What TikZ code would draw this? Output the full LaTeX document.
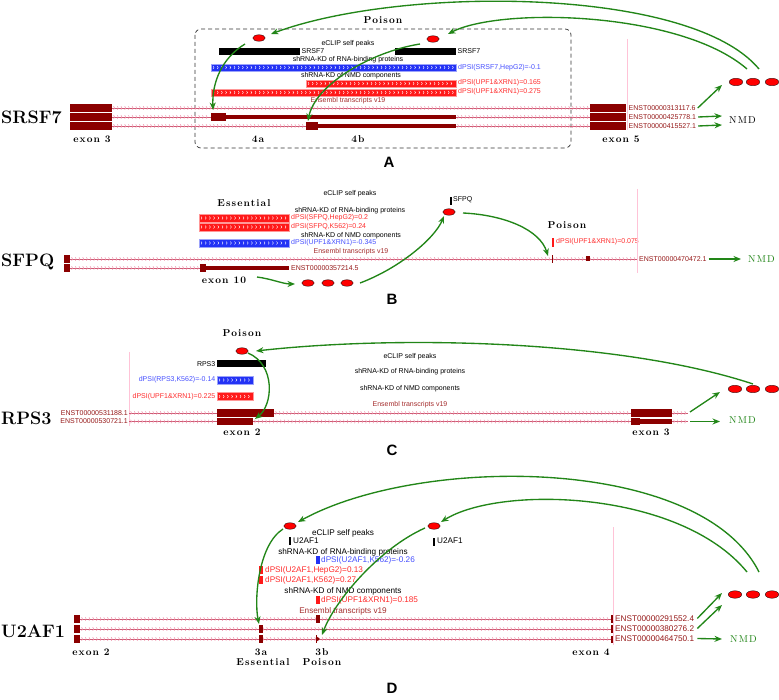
\documentclass[tikz,border=0pt]{standalone}
\usepackage{fontspec}
\newfontfamily\arial{Liberation Sans}
\newfontfamily\lmsp[Extension=.otf, UprightFont=*-regular, BoldFont=*-bold, LetterSpace=11]{lmroman10}
\usetikzlibrary{shapes.geometric,arrows.meta}
\definecolor{exred}{RGB}{139,0,0}
\definecolor{intr}{RGB}{205,90,115}
\definecolor{chev}{RGB}{240,150,175}
\definecolor{bbar}{RGB}{35,50,245}
\definecolor{rbar}{RGB}{255,25,25}
\definecolor{btxt}{RGB}{70,80,255}
\definecolor{rtxt}{RGB}{255,45,45}
\definecolor{grn}{RGB}{34,134,24}
\definecolor{pinkl}{RGB}{255,195,215}
\definecolor{enst}{RGB}{150,25,25}
\definecolor{enstxt}{RGB}{165,45,45}
\newcommand\intron[3]{%
 \draw[intr, line width=0.5pt] (#1,#3)--(#2,#3);
 \pgfmathsetmacro\ia{#1+2.5}\pgfmathsetmacro\ib{#1+6.2}\pgfmathsetmacro\ie{#2-0.5}
 \foreach \x in {\ia,\ib,...,\ie}{\draw[chev, line width=0.5pt] (\x-0.9,#3-1.8)--(\x,#3)--(\x-0.9,#3+1.8);}
}
\newcommand\chevbar[5]{%
 \fill[#5] (#1,#3) rectangle (#2,#4);
 \draw[#5!45, line width=0.5pt] (#1,#3) rectangle (#2,#4);
 \pgfmathsetmacro\ca{#1+3}\pgfmathsetmacro\cb{#1+7.2}\pgfmathsetmacro\ce{#2-0.8}\pgfmathsetmacro\cm{(#3+#4)/2}
 \foreach \x in {\ca,\cb,...,\ce}{\draw[white, line width=0.4pt] (\x-1,\cm-1.4)--(\x,\cm)--(\x-1,\cm+1.4);}
}
\begin{document}
\begin{tikzpicture}[x=1pt,y=-1pt,
 t/.style={inner sep=0, font=\arial\fontsize{7}{8}\selectfont},
 td/.style={inner sep=0, font=\arial\fontsize{8.2}{9}\selectfont},
 gene/.style={inner sep=0, anchor=west, font=\fontsize{18}{20}\selectfont\bfseries},
 spc/.style={inner sep=0, font=\lmsp\bfseries\fontsize{10}{12}\selectfont},
 nmd/.style={inner sep=0, anchor=west, font=\lmsp\fontsize{10}{12}\selectfont},
 plet/.style={inner sep=0, font=\arial\bfseries\fontsize{15}{17}\selectfont},
 oval/.style={ellipse, draw=black, line width=0.3pt, fill=red, minimum width=12.5pt, minimum height=6.5pt, inner sep=0},
 ovalr/.style={oval, minimum width=13.5pt, minimum height=7.5pt},
 garrow/.style={draw=grn, line width=1.35pt, -{Stealth[length=7.5pt,width=6pt]}},
 enl/.style={t, anchor=west, text=enst},
 enlr/.style={t, anchor=east, text=enst},
 endl/.style={td, anchor=west, text=enst}
]
\useasboundingbox (0,0) rectangle (779,700);
\fill[white] (0,0) rectangle (779,700);

%================ PANEL A
\draw[black!80, dash pattern=on 4pt off 3pt, line width=0.7pt, rounded corners=6pt] (195,29) rectangle (571,148);
\node[spc] (pA) at (383,20) {Poison};
\node[oval] (eA1) at (259,38) {};
\node[oval] (eA2) at (433,39) {};
\fill[black] (219,48) rectangle (300,55);
\node[t, anchor=west] (cA1) at (301.5,51.5) {SRSF7};
\fill[black] (395,48) rectangle (456,55);
\node[t, anchor=west] (cA2) at (457.5,51.5) {SRSF7};
\node[t] (hA1) at (348,44) {eCLIP self peaks};
\node[t] (hA2) at (348,60) {shRNA-KD of RNA-binding proteins};
\chevbar{211}{456}{64}{71}{bbar}
\node[t, anchor=west, text=btxt] (dA1) at (458,67.5) {dPSI(SRSF7,HepG2)=-0.1};
\node[t] (hA3) at (351,76) {shRNA-KD of NMD components};
\chevbar{306}{456}{80}{87}{rbar}
\node[t, anchor=west, text=rtxt] (dA2) at (458,82.5) {dPSI(UPF1\&XRN1)=0.165};
\chevbar{211}{456}{89}{96}{rbar}
\node[t, anchor=west, text=rtxt] (dA3) at (458,92) {dPSI(UPF1\&XRN1)=0.275};
\node[t, text=enstxt] (hA4) at (348,101) {Ensembl transcripts v19};
% transcripts
\intron{112}{590}{108}
\fill[exred] (70,104.3) rectangle (112,111.7);
\fill[exred] (590,104.3) rectangle (626,111.7);
\intron{112}{211}{117}
\fill[exred] (70,113.3) rectangle (112,120.7);
\fill[exred] (211,113.3) rectangle (226,120.7);
\fill[exred] (226,115) rectangle (456,119);
\intron{456}{590}{117}
\fill[exred] (590,113.3) rectangle (626,120.7);
\intron{112}{306}{126}
\fill[exred] (70,122.3) rectangle (112,129.7);
\fill[exred] (306,122.3) rectangle (318,129.7);
\fill[exred] (318,124.2) rectangle (456,127.8);
\intron{456}{590}{126}
\fill[exred] (590,122.3) rectangle (626,129.7);
\draw[pinkl, line width=0.8pt] (627,39) -- (627,130);
\node[enl] (tA1) at (628.5,108) {ENST00000313117.6};
\node[enl] (tA2) at (628.5,117) {ENST00000425778.1};
\node[enl] (tA3) at (628.5,126) {ENST00000415527.1};
\node[gene] (gA) at (1,117) {SRSF7};
\node[spc] (xA1) at (92,139) {exon 3};
\node[spc] (xA2) at (258,139) {4a};
\node[spc] (xA3) at (358,139) {4b};
\node[spc] (xA4) at (621,139) {exon 5};
\node[ovalr] (rA1) at (736,82) {};
\node[ovalr] (rA2) at (753,82) {};
\node[ovalr] (rA3) at (772,82) {};
\node[nmd] (nA) at (729,120) {NMD};
\coordinate (qA1) at (722,85);
\coordinate (qA2) at (722,116);
\coordinate (qA3) at (722,125);
\draw[garrow] ([xshift=2pt]tA1.east) -- (qA1);
\draw[garrow] ([xshift=2pt]tA2.east) -- (qA2);
\draw[garrow] ([xshift=2pt]tA3.east) -- (qA3);
\coordinate (sA1) at (759,69); \coordinate (aA1) at (271,34);
\coordinate (sA2) at (747,69); \coordinate (aA2) at (448,34);
\draw[garrow] (sA1) .. controls (690,-14) and (400,-14) .. (aA1);
\draw[garrow] (sA2) .. controls (680,11) and (500,7) .. (aA2);
\coordinate (sA3) at (245,44); \coordinate (aA3) at (213,110);
\coordinate (sA4) at (420,44); \coordinate (aA4) at (308,121);
\draw[garrow] (sA3) .. controls (222,58) and (212,82) .. (aA3);
\draw[garrow] (sA4) .. controls (370,52) and (315,85) .. (aA4);
\node[plet] (LA) at (389,162) {A};

%================ PANEL B
\node[gene] (gB) at (1,262) {SFPQ};
\node[spc] (pB1) at (244,203) {Essential};
\node[t] (hB1) at (350,194) {eCLIP self peaks};
\fill[black] (450.4,197) rectangle (451.8,205);
\node[t, anchor=west] (cB1) at (453,200) {SFPQ};
\node[oval] (eB) at (449,212) {};
\node[t] (hB2) at (350,211) {shRNA-KD of RNA-binding proteins};
\chevbar{199}{289}{214}{222}{rbar}
\node[t, anchor=west, text=rtxt] (dB1) at (291,218) {dPSI(SFPQ,HepG2)=0.2};
\chevbar{199}{289}{223}{231}{rbar}
\node[t, anchor=west, text=rtxt] (dB2) at (291,227) {dPSI(SFPQ,K562)=0.24};
\node[t] (hB3) at (351,236) {shRNA-KD of NMD components};
\chevbar{199}{289}{239}{247}{bbar}
\node[t, anchor=west, text=btxt] (dB3) at (291,243) {dPSI(UPF1\&XRN1)=-0.345};
\node[t, text=enstxt] (hB4) at (351,252) {Ensembl transcripts v19};
\node[spc] (pB2) at (567,225) {Poison};
\fill[rbar] (552,238) rectangle (554,247);
\node[t, anchor=west, text=rtxt] (dB4) at (556,242) {dPSI(UPF1\&XRN1)=0.075};
\intron{70}{637}{259}
\fill[exred] (64,255) rectangle (70,263);
\fill[exred] (551.6,255) rectangle (553.4,263);
\fill[exred] (586,256.5) rectangle (590,261.5);
\intron{70}{200}{268}
\fill[exred] (64,264) rectangle (70,272);
\fill[exred] (200,264) rectangle (206,272);
\fill[exred] (206,265.8) rectangle (289,270.2);
\draw[pinkl, line width=0.8pt] (637,189) -- (637,273);
\node[enl] (tB1) at (639,259) {ENST00000470472.1};
\node[enl] (tB2) at (291,268) {ENST00000357214.5};
\node[spc] (xB1) at (224,280) {exon 10};
\node[oval] (mB1) at (308,283) {};
\node[oval] (mB2) at (328,283) {};
\node[oval] (mB3) at (347,283) {};
\coordinate (sB1) at (257,277); \coordinate (aB1) at (295,284);
\draw[garrow] (sB1) .. controls (272,279) and (283,284) .. (aB1);
\coordinate (sB2) at (360,283); \coordinate (aB2) at (444,216);
\draw[garrow] (sB2) .. controls (400,268) and (435,238) .. (aB2);
\coordinate (sB3) at (463,213); \coordinate (aB3) at (548,256);
\draw[garrow] (sB3) .. controls (505,215) and (540,230) .. (aB3);
\node[nmd, text=grn] (nB) at (748,259) {NMD};
\coordinate (qB) at (741,259);
\draw[garrow] ([xshift=2pt]tB1.east) -- (qB);
\node[plet] (LB) at (392,299) {B};

%================ PANEL C
\node[spc] (pC) at (242,333) {Poison};
\node[oval] (eC) at (242,351) {};
\draw[pinkl, line width=0.8pt] (129,352) -- (129,426);
\fill[black] (217,360) rectangle (266,367.5);
\node[t, anchor=east] (cC) at (215.5,364) {RPS3};
\chevbar{217}{253}{376}{384}{bbar}
\node[t, anchor=east, text=btxt] (dC1) at (215.5,380) {dPSI(RPS3,K562)=-0.14};
\chevbar{217}{253}{392.5}{400.5}{rbar}
\node[t, anchor=east, text=rtxt] (dC2) at (215.5,396.5) {dPSI(UPF1\&XRN1)=0.225};
\node[t] (hC1) at (410,357) {eCLIP self peaks};
\node[t] (hC2) at (410,372) {shRNA-KD of RNA-binding proteins};
\node[t] (hC3) at (410,389) {shRNA-KD of NMD components};
\node[t, text=enstxt] (hC4) at (410,405) {Ensembl transcripts v19};
\intron{129}{217}{413}
\intron{274}{631}{413}
\intron{672}{688}{413}
\fill[exred] (217,409) rectangle (274,417);
\fill[exred] (631,409) rectangle (672,417);
\intron{129}{217}{421.5}
\intron{253}{631}{421.5}
\intron{672}{688}{421.5}
\fill[exred] (217,417.6) rectangle (253,425.4);
\fill[exred] (631,417.6) rectangle (640,425.4);
\fill[exred] (640,419.4) rectangle (672,423.6);
\node[enlr] (tC1) at (128,413) {ENST00000531188.1};
\node[enlr] (tC2) at (128,421.5) {ENST00000530721.1};
\node[gene] (gC) at (1,418) {RPS3};
\node[spc] (xC1) at (242,432) {exon 2};
\node[spc] (xC2) at (651,432) {exon 3};
\node[ovalr] (rC1) at (735,389) {};
\node[ovalr] (rC2) at (753,389) {};
\node[ovalr] (rC3) at (772,389) {};
\coordinate (pC1) at (690,412); \coordinate (qC1) at (720,392);
\coordinate (pC2) at (690,421.5); \coordinate (qC2) at (720,421.5);
\draw[garrow] (pC1) -- (qC1);
\draw[garrow] (pC2) -- (qC2);
\node[nmd, text=grn] (nC) at (729,420) {NMD};
\coordinate (sC1) at (753,384); \coordinate (aC1) at (256,351);
\draw[garrow] (sC1) .. controls (620,340) and (400,335) .. (aC1);
\coordinate (sC2) at (248,353); \coordinate (aC2) at (255,419);
\draw[garrow] (sC2) .. controls (276,365) and (273,405) .. (aC2);
\node[plet] (LC) at (392,450) {C};

%================ PANEL D
\node[gene] (gD) at (1,631) {U2AF1};
\node[oval] (eD1) at (290,526) {};
\node[oval] (eD2) at (434,526) {};
\node[td] (hD1) at (343,533) {eCLIP self peaks};
\fill[black] (288.8,537) rectangle (291,545);
\node[td, anchor=west] (cD1) at (293,541) {U2AF1};
\fill[black] (432.5,538) rectangle (434.7,546);
\node[td, anchor=west] (cD2) at (437,541) {U2AF1};
\node[td] (hD2) at (343,552) {shRNA-KD of RNA-binding proteins};
\fill[bbar] (316,556) rectangle (319.5,564);
\node[td, anchor=west, text=btxt] (dD1) at (321,560) {dPSI(U2AF1,K562)=-0.26};
\fill[rbar] (259,566) rectangle (263,574);
\node[td, anchor=west, text=rtxt] (dD2) at (265,570) {dPSI(U2AF1,HepG2)=0.13};
\fill[rbar] (259,576) rectangle (263,584);
\node[td, anchor=west, text=rtxt] (dD3) at (265,580) {dPSI(U2AF1,K562)=0.27};
\node[td] (hD3) at (343,591) {shRNA-KD of NMD components};
\fill[rbar] (316,596) rectangle (319.5,604);
\node[td, anchor=west, text=rtxt] (dD4) at (321,600) {dPSI(UPF1\&XRN1)=0.185};
\node[td, text=enstxt] (hD4) at (343,611) {Ensembl transcripts v19};
\intron{80}{611}{619}
\intron{80}{611}{629}
\intron{80}{611}{639}
\fill[exred] (74,614.6) rectangle (80,623.4);
\fill[exred] (74,624.6) rectangle (80,633.4);
\fill[exred] (74,634.6) rectangle (80,643.4);
\fill[exred] (316,614.6) rectangle (319.5,623.4);
\fill[exred] (259,624.6) rectangle (263,633.4);
\fill[exred] (259,634.6) rectangle (263,643.4);
\fill[exred] (316,635) rectangle (317.3,643);
\fill[exred] (317,636.8) -- (320,639) -- (317,641.2) -- cycle;
\fill[exred] (610.8,615) rectangle (613,623);
\fill[exred] (610.8,625) rectangle (613,633);
\fill[exred] (611.2,635.5) rectangle (612.8,642.5);
\draw[pinkl, line width=0.8pt] (613.6,527) -- (613.6,645);
\node[endl] (tD1) at (615,618.5) {ENST00000291552.4};
\node[endl] (tD2) at (615,628.5) {ENST00000380276.2};
\node[endl] (tD3) at (615,638.5) {ENST00000464750.1};
\node[spc] (xD1) at (91,652) {exon 2};
\node[spc] (xD2) at (261,652) {3a};
\node[spc] (xD3) at (263,662.5) {Essential};
\node[spc] (xD4) at (322,652) {3b};
\node[spc] (xD5) at (322,662.5) {Poison};
\node[spc] (xD6) at (591,652) {exon 4};
\node[ovalr] (rD1) at (735,594.5) {};
\node[ovalr] (rD2) at (753,594.5) {};
\node[ovalr] (rD3) at (772,594.5) {};
\coordinate (qD1) at (722,593);
\coordinate (qD2) at (722,605);
\coordinate (qD3) at (722,639);
\draw[garrow] ([xshift=3pt]tD1.east) -- (qD1);
\draw[garrow] ([xshift=3pt]tD2.east) -- (qD2);
\draw[garrow] ([xshift=3pt]tD3.east) -- (qD3);
\node[nmd, text=grn] (nD) at (730,639) {NMD};
\coordinate (sD1) at (759,572); \coordinate (aD1) at (298,522);
\draw[garrow] (sD1) .. controls (700,455) and (420,455) .. (aD1);
\coordinate (sD2) at (747,572); \coordinate (aD2) at (441,522);
\draw[garrow] (sD2) .. controls (680,490) and (500,485) .. (aD2);
\coordinate (sD3) at (283,529); \coordinate (aD3) at (259,624);
\draw[garrow] (sD3) .. controls (258,545) and (254,600) .. (aD3);
\coordinate (sD4) at (425,528); \coordinate (aD4) at (322,635);
\draw[garrow] (sD4) .. controls (380,548) and (335,600) .. (aD4);
\node[plet] (LD) at (392,688) {D};
\end{tikzpicture}
\end{document}
